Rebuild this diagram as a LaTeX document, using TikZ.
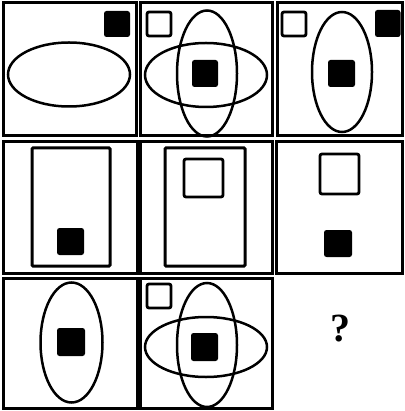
\documentclass[tikz,border=0pt]{standalone}
\usepackage{fontspec}
\newfontfamily\qfont{Liberation Serif}
\begin{document}
\begin{tikzpicture}[x=1pt,y=-1pt,
  cell/.style={draw=black, line width=3pt},
  inrect/.style={draw=black, line width=3pt, rounded corners=1pt},
  fillsq/.style={fill=black, rounded corners=2.5pt},
  hollowsq/.style={draw=black, line width=2.8pt, rounded corners=2pt},
  ell/.style={draw=black, line width=2.5pt}]
\useasboundingbox (0,0) rectangle (404,411);
% row 1
\draw[cell] (3,3) rectangle (136,136);
\draw[cell] (140,3) rectangle (272,136);
\draw[cell] (277,3) rectangle (402.5,136);
% row 2
\draw[cell] (3,142) rectangle (137,273);
\draw[cell] (140,142) rectangle (272,273);
\draw[cell] (276,142) rectangle (402.5,273);
% row 3
\draw[cell] (3,278) rectangle (137,408);
\draw[cell] (140,278) rectangle (272,408);

% cell 1
\fill[fillsq] (104,11) rectangle (130,37);
\draw[ell] (69,74.5) ellipse [x radius=61pt, y radius=32pt];
% cell 2
\draw[hollowsq] (147,12) rectangle (171,36);
\draw[ell] (206,75) ellipse [x radius=61pt, y radius=32pt];
\draw[ell] (207,73.5) ellipse [x radius=30pt, y radius=63pt];
\fill[fillsq] (192,60) rectangle (218,87);
% cell 3
\draw[hollowsq] (282,12) rectangle (306,36);
\fill[fillsq] (375,10) rectangle (400.5,37);
\draw[ell] (342,72) ellipse [x radius=30pt, y radius=60pt];
\fill[fillsq] (328,60) rectangle (355,87);
% cell 4
\draw[inrect] (32,148) rectangle (110,266);
\fill[fillsq] (57,228) rectangle (84,255);
% cell 5
\draw[inrect] (165,148) rectangle (245,266);
\draw[hollowsq] (184,159) rectangle (223,197);
% cell 6
\draw[hollowsq] (320,154) rectangle (359,194);
\fill[fillsq] (324,230) rectangle (352,257);
% cell 7
\draw[ell] (71.5,342.5) ellipse [x radius=31pt, y radius=60pt];
\fill[fillsq] (57,328) rectangle (85,356);
% cell 8
\draw[hollowsq] (147,284) rectangle (171,308);
\draw[ell] (206,347) ellipse [x radius=61pt, y radius=30pt];
\draw[ell] (207,345) ellipse [x radius=30pt, y radius=62pt];
\fill[fillsq] (191,333) rectangle (218,361);
% question mark
\node[inner sep=0pt, font=\qfont\bfseries\fontsize{40}{40}\selectfont] (q) at (340,329) {?};
\end{tikzpicture}
\end{document}
